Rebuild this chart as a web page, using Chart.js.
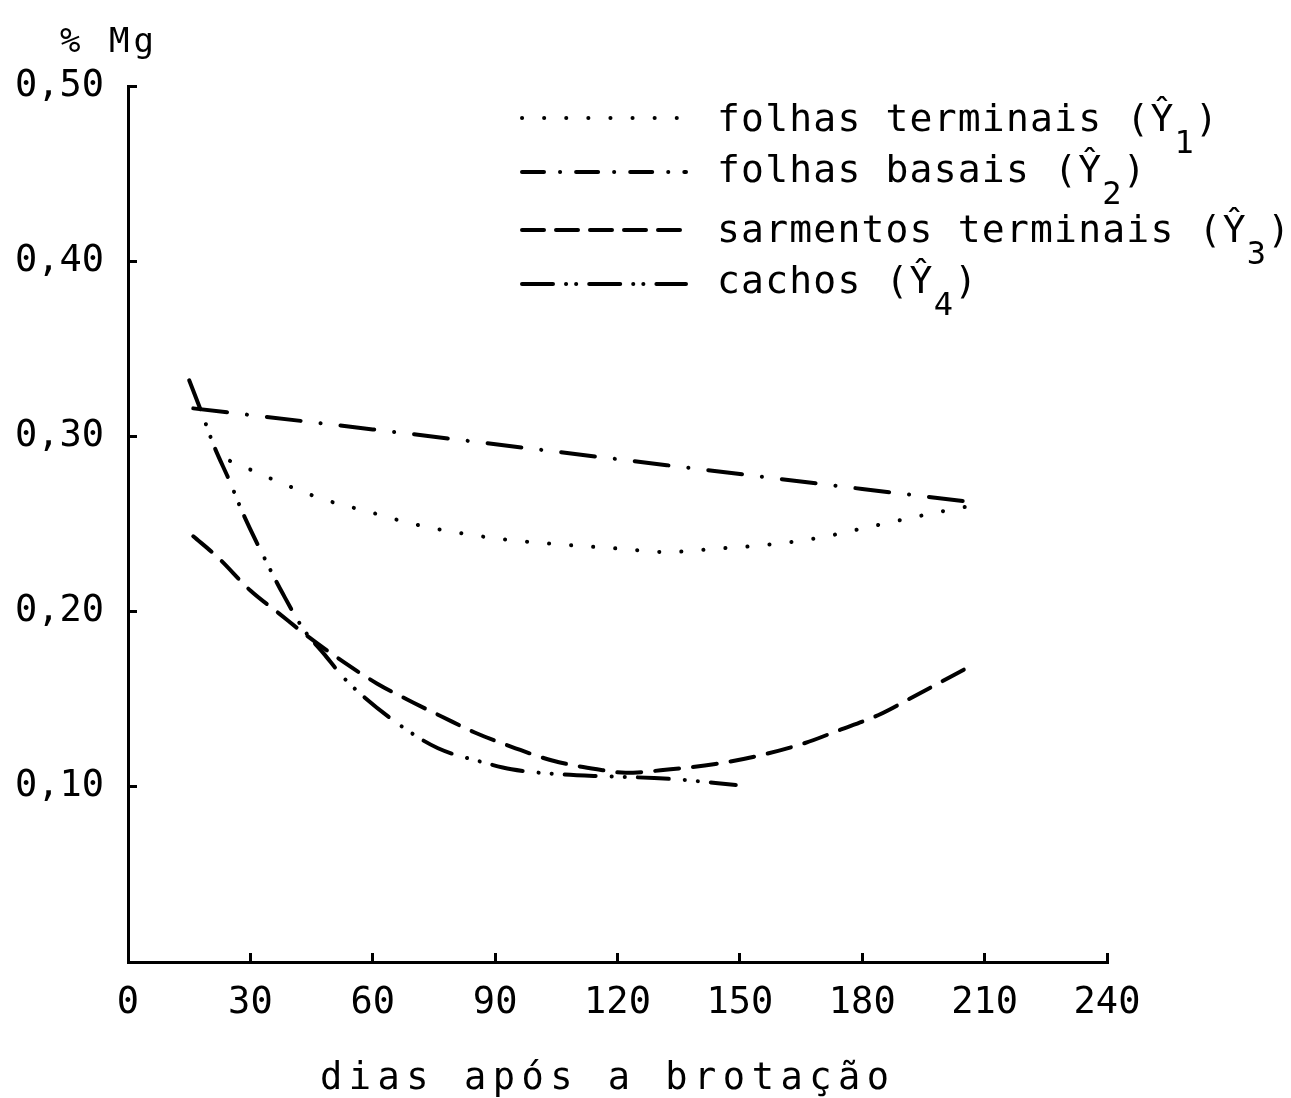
<!DOCTYPE html>
<html>
<head>
<meta charset="utf-8">
<script src="https://cdn.jsdelivr.net/npm/chart.js@4.4.1/dist/chart.umd.min.js"></script>
<style>
  body { margin: 0; background: #fff; }
  #wrap { position: relative; width: 1291px; height: 1098px; font-family: "DejaVu Sans Mono", monospace; color: #000; }
  #wrap canvas { position: absolute; left: 0; top: 0; }
  .txt { position: absolute; white-space: nowrap; line-height: 1; }
  .leg { font-size: 38px; letter-spacing: 1.2px; }
  .sample { position: absolute; left: 0; top: 0; }
  .sub { font-size: 32px; position: relative; top: 22px; }
</style>
</head>
<body>
<div id="wrap">
  <canvas id="chart" width="1291" height="1098"></canvas>
  <svg class="sample" width="1291" height="320" id="samples"></svg>
  <div class="txt" style="left:60px; top:23px; font-size:34px; letter-spacing:4px;">% Mg</div>
  <div class="txt leg" style="left:717px; top:99px;">folhas terminais (Ŷ<span class="sub">1</span>)</div>
  <div class="txt leg" style="left:717px; top:150px;">folhas basais (Ŷ<span class="sub">2</span>)</div>
  <div class="txt leg" style="left:717px; top:210px;">sarmentos terminais (Ŷ<span class="sub">3</span>)</div>
  <div class="txt leg" style="left:717px; top:261px;">cachos (Ŷ<span class="sub">4</span>)</div>
  <div class="txt" style="left:320px; top:1058px; font-size:37px; letter-spacing:6.5px;">dias após a brotação</div>
</div>
<script>
// dias após a brotação / % Mg
var xTicks = [0, 30, 60, 90, 120, 150, 180, 210, 240];
var yTicks = [0.10, 0.20, 0.30, 0.40, 0.50];

// folhas terminais (Y1)
var termDays = [25, 30, 38, 48, 59, 70, 81, 93, 108, 120, 132, 145, 156, 169, 183, 197, 208];
var termMg = [0.286, 0.281, 0.273, 0.264, 0.257, 0.250, 0.245, 0.241, 0.238, 0.236, 0.234, 0.236, 0.238, 0.242, 0.249, 0.256, 0.261];

// folhas basais (Y2)
var basDays = [16, 60, 120, 180, 205];
var basMg = [0.316, 0.304, 0.287, 0.270, 0.263];

// sarmentos terminais (Y3)
var sarDays = [16, 22, 30, 37, 44, 53, 61, 70, 77, 85, 95, 104, 115, 122, 133, 144, 155, 166, 174, 184, 193, 205];
var sarMg = [0.243, 0.231, 0.212, 0.199, 0.186, 0.171, 0.159, 0.148, 0.140, 0.131, 0.122, 0.115, 0.110, 0.108, 0.110, 0.113, 0.118, 0.125, 0.132, 0.141, 0.152, 0.167];

// cachos (Y4)
var cachDays = [15, 18, 21, 25, 28, 34, 38, 43, 48, 53, 58, 68, 76, 87, 94, 107, 117, 129, 136, 149];
var cachMg = [0.332, 0.314, 0.295, 0.274, 0.257, 0.228, 0.210, 0.190, 0.176, 0.162, 0.151, 0.133, 0.122, 0.114, 0.110, 0.107, 0.106, 0.105, 0.104, 0.101];

function pts(xs, ys) {
  var out = [];
  for (var i in xs) out.push({x: xs[i], y: ys[i]});
  return out;
}

function line(data, dash) {
  return {
    data: data,
    borderColor: '#000',
    borderWidth: 4,
    borderDash: dash,
    borderCapStyle: 'round',
    pointRadius: 0,
    fill: false,
    cubicInterpolationMode: 'monotone'
  };
}

// legend samples
var legendRows = [
  {y: 118, dash: '0.1 22'},
  {y: 172, dash: '22 16 0.1 16'},
  {y: 230, dash: '22 12'},
  {y: 284, dash: '31 13 0.1 10 0.1 13'}
];
var svg = document.getElementById('samples');
legendRows.forEach(function(r) {
  var l = document.createElementNS('http://www.w3.org/2000/svg', 'line');
  l.setAttribute('x1', 522); l.setAttribute('x2', 686);
  l.setAttribute('y1', r.y); l.setAttribute('y2', r.y);
  l.setAttribute('stroke', '#000');
  l.setAttribute('stroke-width', 4);
  l.setAttribute('stroke-linecap', 'round');
  l.setAttribute('stroke-dasharray', r.dash);
  svg.appendChild(l);
});

var tickFont = {family: 'DejaVu Sans Mono', size: 37};

new Chart(document.getElementById('chart'), {
  type: 'line',
  data: {
    datasets: [
      line(pts(termDays, termMg), [0.1, 22]),
      line(pts(basDays, basMg), [34, 20, 0.1, 20]),
      line(pts(sarDays, sarMg), [24, 14]),
      line(pts(cachDays, cachMg), [31, 16, 0.1, 13, 0.1, 13])
    ]
  },
  options: {
    responsive: false,
    animation: false,
    layout: {padding: {left: 0, top: 86, right: 184, bottom: 0}},
    plugins: {legend: {display: false}, tooltip: {enabled: false}},
    scales: {
      x: {
        type: 'linear',
        min: 0, max: 240,
        afterBuildTicks: function(s) { s.ticks = xTicks.map(function(v) { return {value: v}; }); },
        afterFit: function(s) { s.height = 136; },
        border: {color: '#000', width: 3},
        grid: {drawOnChartArea: false, color: '#000', lineWidth: 3, tickLength: -9},
        ticks: {color: '#000', font: tickFont, padding: 28, maxRotation: 0,
          callback: function(v) { return String(v); }}
      },
      y: {
        min: 0, max: 0.5,
        afterBuildTicks: function(s) { s.ticks = [{value: 0}].concat(yTicks.map(function(v) { return {value: v}; })); },
        afterFit: function(s) { s.width = 128; },
        border: {color: '#000', width: 3},
        grid: {drawOnChartArea: false, color: '#000', lineWidth: 3, tickLength: -9},
        ticks: {color: '#000', font: tickFont, padding: 33,
          callback: function(v) { return v === 0 ? '' : v.toFixed(2).replace('.', ','); }}
      }
    }
  }
});
</script>
</body>
</html>
